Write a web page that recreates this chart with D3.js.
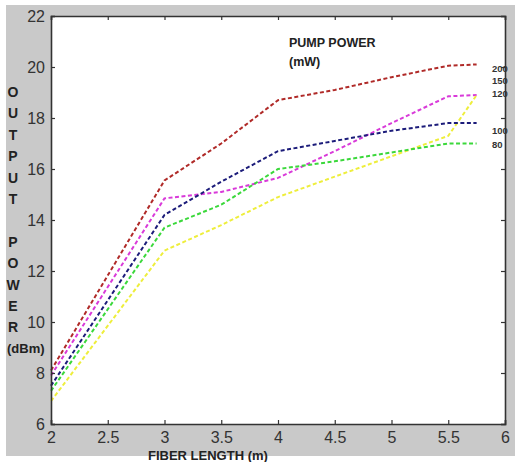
<!DOCTYPE html>
<html><head><meta charset="utf-8">
<script src="https://cdn.jsdelivr.net/npm/d3@7"></script>
<style>
html,body{margin:0;padding:0;background:#fff;}
svg{display:block;}
</style></head>
<body>
<script>
// ---- data ----
const fiberLength = [2, 3, 3.5, 4, 4.5, 5, 5.5, 5.75];
const pump200 = [8.1, 15.55, 17.0, 18.7, 19.1, 19.6, 20.05, 20.1];
const pump150 = [7.9, 14.85, 15.1, 15.65, 16.7, 17.8, 18.85, 18.9];
const pump120 = [6.9, 12.8, 13.8, 14.9, 15.7, 16.5, 17.3, 18.9];
const pump100 = [7.5, 14.2, 15.5, 16.7, 17.1, 17.5, 17.8, 17.8];
const pump80  = [7.3, 13.7, 14.6, 16.0, 16.3, 16.65, 17.0, 17.0];
const seriesNames = ["200", "150", "120", "100", "80"];
const labelValues = [19.95, 19.45, 18.95, 17.5, 16.95];
const xTicks = [2, 2.5, 3, 3.5, 4, 4.5, 5, 5.5, 6];
const yTicks = [6, 8, 10, 12, 14, 16, 18, 20, 22];
const yTitleLetters = ["O","U","T","P","U","T","","P","O","W","E","R","(dBm)"];

const seriesValues = [pump200, pump150, pump120, pump100, pump80];
const colors = ["#b02a28", "#d93ad9", "#eeee3c", "#1c1c7a", "#3bd83b"];

const W = 518, H = 462;
const svg = d3.select("body").append("svg").attr("width", W).attr("height", H);

// outer gray panel
svg.append("rect").attr("x", 6).attr("y", 5).attr("width", 509).attr("height", 451).attr("fill", "#c9c9c9");

const x = d3.scaleLinear().domain([2, 6]).range([51, 505]);
const y = d3.scaleLinear().domain([6, 22]).range([424, 16]);

// plot area
svg.append("rect").attr("x", x(2)).attr("y", y(22)).attr("width", x(6) - x(2)).attr("height", y(6) - y(22))
  .attr("fill", "#fff");

const font = "'Liberation Sans Narrow','Liberation Sans',Arial,sans-serif";

const line = d3.line().x(d => x(d[0])).y(d => y(d[1]));
seriesValues.forEach((vals, i) => {
  svg.append("path")
    .datum(fiberLength.map((f, j) => [f, vals[j]]))
    .attr("d", line)
    .attr("fill", "none")
    .attr("stroke", colors[i])
    .attr("stroke-width", 2)
    .attr("stroke-dasharray", "4,2.5");
});

// axes
const axisColor = "#333";
const gB = svg.append("g").attr("transform", `translate(0,${y(6)})`)
  .call(d3.axisBottom(x).tickValues(xTicks).tickSize(-4).tickPadding(8).tickFormat(d3.format("")));
const gL = svg.append("g").attr("transform", `translate(${x(2)},0)`)
  .call(d3.axisLeft(y).tickValues(yTicks).tickSize(-4).tickPadding(6));
const gT = svg.append("g").attr("transform", `translate(0,${y(22)})`)
  .call(d3.axisTop(x).tickValues(xTicks).tickSize(-4).tickFormat(""));
const gR = svg.append("g").attr("transform", `translate(${x(6)},0)`)
  .call(d3.axisRight(y).tickValues(yTicks).tickSize(-4).tickFormat(""));
[gB, gL, gT, gR].forEach(g => {
  g.select(".domain").attr("stroke", axisColor).attr("stroke-width", 1.6);
  g.selectAll(".tick line").attr("stroke", axisColor).attr("stroke-width", 1.2);
  g.selectAll(".tick text").attr("fill", "#333").style("font-family", font).style("font-size", "16px");
});
gB.selectAll(".tick text").attr("dy", "0.71em");

// series labels
seriesNames.forEach((n, i) => {
  svg.append("text").attr("x", 492).attr("y", y(labelValues[i])).attr("dy", "0.35em")
    .attr("fill", "#333").style("font-family", font).style("font-size", "9.5px").style("font-weight", "bold")
    .text(n);
});

// legend title
svg.append("text").attr("x", 289).attr("y", 47).attr("fill", "#222")
  .style("font-family", font).style("font-size", "12.5px").style("font-weight", "bold").text("PUMP POWER");
svg.append("text").attr("x", 289).attr("y", 66).attr("fill", "#222")
  .style("font-family", font).style("font-size", "12.5px").style("font-weight", "bold").text("(mW)");

// x title
svg.append("text").attr("x", 148).attr("y", 460).attr("fill", "#222")
  .style("font-family", font).style("font-size", "13px").style("font-weight", "bold").text("FIBER LENGTH (m)");

// y title (stacked letters)
yTitleLetters.forEach((c, i) => {
  if (!c) return;
  const isUnit = c.length > 1;
  svg.append("text").attr("x", isUnit ? 7 : 13).attr("y", 92 + i * 21.4).attr("dy", "0.35em")
    .attr("text-anchor", isUnit ? "start" : "middle")
    .attr("fill", "#222").style("font-family", font).style("font-size", isUnit ? "13px" : "14px").style("font-weight", "bold")
    .text(c);
});
</script>
</body></html>
